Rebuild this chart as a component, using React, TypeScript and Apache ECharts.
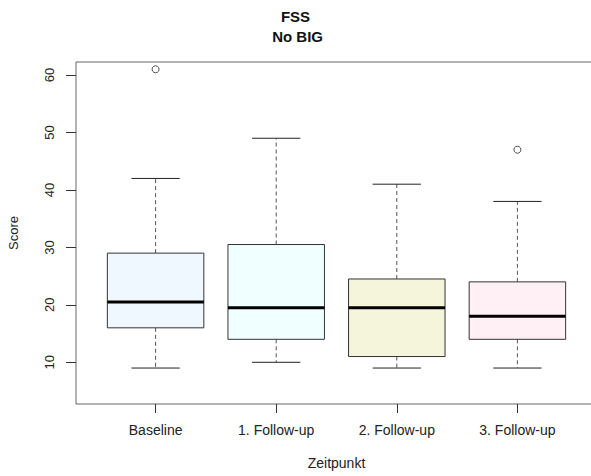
import React, { useEffect, useRef } from "react";
import * as echarts from "echarts";

const categories = ["Baseline", "1. Follow-up", "2. Follow-up", "3. Follow-up"];
// [lower whisker, Q1, median, Q3, upper whisker]
const boxStats = [
  [9, 16, 20.5, 29, 42],
  [10, 14, 19.5, 30.5, 49],
  [9, 11, 19.5, 24.5, 41],
  [9, 14, 18, 24, 38],
];
const outliers = [
  [1, 61],
  [4, 47],
];
const fills = ["#F0F8FF", "#F0FFFF", "#F5F5DC", "#FFF0F5"];
const yTicks = [10, 20, 30, 40, 50, 60];
const xTicks = [1, 2, 3, 4];

const FONT = "'Liberation Sans', Arial, Helvetica, sans-serif";

export default function App() {
  const ref = useRef<HTMLDivElement>(null);
  useEffect(() => {
    if (!ref.current) return;
    const chart = echarts.init(ref.current, null, { renderer: "svg" });
    const boxData = boxStats.map((s, i) => [i + 1, ...s]);
    chart.setOption({
      animation: false,
      backgroundColor: "#fff",
      title: {
        text: "FSS\n No BIG",
        left: "center",
        top: 1,
        textStyle: {
          fontFamily: FONT,
          fontSize: 15,
          fontWeight: "bold",
          lineHeight: 20,
          color: "#111",
        },
      },
      grid: {
        left: 76,
        top: 62,
        width: 521,
        height: 342,
        outerBoundsMode: "none",
        containLabel: false,
        show: true,
        borderColor: "#666",
        borderWidth: 1,
        backgroundColor: "transparent",
      },
      xAxis: {
        type: "value",
        min: 0.34,
        max: 4.66,
        name: "Zeitpunkt",
        nameLocation: "middle",
        nameGap: 52,
        nameTextStyle: { fontFamily: FONT, fontSize: 14, color: "#222" },
        axisLine: { show: false },
        splitLine: { show: false },
        axisTick: {
          show: true,
          length: 9,
          customValues: xTicks,
          lineStyle: { color: "#333" },
        },
        axisLabel: {
          customValues: xTicks,
          margin: 19,
          fontFamily: FONT,
          fontSize: 14,
          color: "#222",
          formatter: (v: number) => categories[Math.round(v) - 1] ?? "",
        },
      },
      yAxis: {
        type: "value",
        min: 2.74,
        max: 62.27,
        name: "Score",
        nameLocation: "middle",
        nameGap: 56,
        nameRotate: 90,
        nameTextStyle: { fontFamily: FONT, fontSize: 13, color: "#222" },
        axisLine: { show: false },
        splitLine: { show: false },
        axisTick: {
          show: true,
          length: 10,
          customValues: yTicks,
          lineStyle: { color: "#333" },
        },
        axisLabel: {
          customValues: yTicks,
          rotate: 90,
          margin: 20,
          fontFamily: FONT,
          fontSize: 13,
          color: "#222",
        },
      },
      series: [
        {
          type: "custom",
          data: boxData,
          clip: false,
          renderItem: (params: any, api: any) => {
            const x = api.value(0);
            const lo = api.value(1);
            const q1 = api.value(2);
            const med = api.value(3);
            const q3 = api.value(4);
            const hi = api.value(5);
            const unit = api.size([1, 0])[0];
            const half = unit * 0.4;
            const capHalf = unit * 0.2;
            const pLo = api.coord([x, lo]);
            const pQ1 = api.coord([x, q1]);
            const pMed = api.coord([x, med]);
            const pQ3 = api.coord([x, q3]);
            const pHi = api.coord([x, hi]);
            const cx = pMed[0];
            const idx = params.dataIndex;
            const dash = { stroke: "#555", lineWidth: 1, lineDash: [4, 3] };
            const solid = { stroke: "#222", lineWidth: 1 };
            return {
              type: "group",
              children: [
                { type: "line", shape: { x1: cx, y1: pQ1[1], x2: cx, y2: pLo[1] }, style: dash },
                { type: "line", shape: { x1: cx, y1: pQ3[1], x2: cx, y2: pHi[1] }, style: dash },
                { type: "line", shape: { x1: cx - capHalf, y1: pLo[1], x2: cx + capHalf, y2: pLo[1] }, style: solid },
                { type: "line", shape: { x1: cx - capHalf, y1: pHi[1], x2: cx + capHalf, y2: pHi[1] }, style: solid },
                {
                  type: "rect",
                  shape: { x: cx - half, y: pQ3[1], width: half * 2, height: pQ1[1] - pQ3[1] },
                  style: { fill: fills[idx], stroke: "#333", lineWidth: 1 },
                },
                {
                  type: "line",
                  shape: { x1: cx - half, y1: pMed[1], x2: cx + half, y2: pMed[1] },
                  style: { stroke: "#000", lineWidth: 3 },
                },
              ],
            };
          },
        },
        {
          type: "scatter",
          data: outliers,
          symbol: "circle",
          symbolSize: 7,
          itemStyle: { color: "#fff", borderColor: "#222", borderWidth: 1 },
        },
      ],
    });
    return () => chart.dispose();
  }, []);
  return (
    <div
      ref={ref}
      style={{ position: "fixed", left: 0, top: 0, width: 591, height: 476, background: "#fff" }}
    />
  );
}
